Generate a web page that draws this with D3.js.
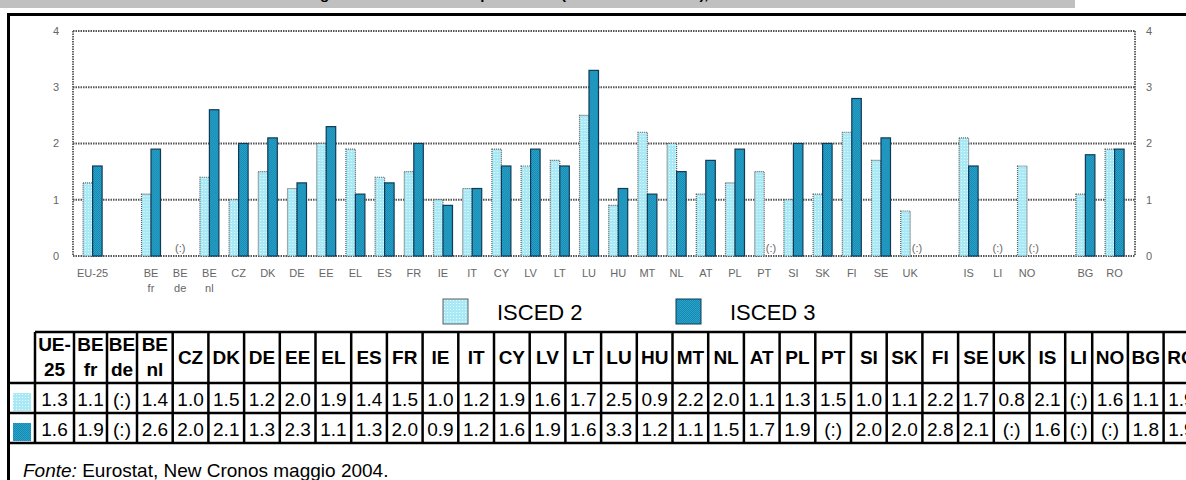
<!DOCTYPE html>
<html>
<head>
<meta charset="utf-8">
<script src="https://cdn.jsdelivr.net/npm/d3@7"></script>
<style>
body { margin: 0; background: #fff; }
svg { display: block; font-family: "Liberation Sans", Arial, sans-serif; }
</style>
</head>
<body>
<div id="chart"></div>
<script>
var countries = ["UE-25", "BE fr", "BE de", "BE nl", "CZ", "DK", "DE", "EE", "EL", "ES", "FR", "IE", "IT", "CY", "LV", "LT", "LU", "HU", "MT", "NL", "AT", "PL", "PT", "SI", "SK", "FI", "SE", "UK", "IS", "LI", "NO", "BG", "RO"];
var axisLabels = ["EU-25", "BE fr", "BE de", "BE nl", "CZ", "DK", "DE", "EE", "EL", "ES", "FR", "IE", "IT", "CY", "LV", "LT", "LU", "HU", "MT", "NL", "AT", "PL", "PT", "SI", "SK", "FI", "SE", "UK", "IS", "LI", "NO", "BG", "RO"];
var isced2 = [1.3, 1.1, null, 1.4, 1.0, 1.5, 1.2, 2.0, 1.9, 1.4, 1.5, 1.0, 1.2, 1.9, 1.6, 1.7, 2.5, 0.9, 2.2, 2.0, 1.1, 1.3, 1.5, 1.0, 1.1, 2.2, 1.7, 0.8, 2.1, null, 1.6, 1.1, 1.9];
var isced3 = [1.6, 1.9, null, 2.6, 2.0, 2.1, 1.3, 2.3, 1.1, 1.3, 2.0, 0.9, 1.2, 1.6, 1.9, 1.6, 3.3, 1.2, 1.1, 1.5, 1.7, 1.9, null, 2.0, 2.0, 2.8, 2.1, null, 1.6, null, null, 1.8, 1.9];
var seriesNames = ["ISCED 2", "ISCED 3"];
var yTicks = [0, 1, 2, 3, 4];
var gapBefore = ["BE fr", "IS", "BG"];
var missing = "(:)";
var title = "Numero medio di lingue straniere studiate per alunno (ISCED 2 e ISCED 3), 2002/03";
var sourceLabel = "Fonte:";
var sourceText = " Eurostat, New Cronos maggio 2004.";

var W = 1186, H = 480;
var svg = d3.select("#chart").append("svg")
	.attr("width", W)
	.attr("height", H);

var defs = svg.append("defs");
var pLight = defs.append("pattern").attr("id", "pLight")
	.attr("width", 3).attr("height", 3).attr("patternUnits", "userSpaceOnUse");
pLight.append("rect").attr("width", 3).attr("height", 3).attr("fill", "#a9e9f6");
pLight.append("rect").attr("x", 1).attr("y", 1).attr("width", 1).attr("height", 1).attr("fill", "#eafcff");
var pDark = defs.append("pattern").attr("id", "pDark")
	.attr("width", 2).attr("height", 2).attr("patternUnits", "userSpaceOnUse");
pDark.append("rect").attr("width", 2).attr("height", 2).attr("fill", "#25a5cc");
pDark.append("rect").attr("width", 1).attr("height", 1).attr("fill", "#1a88b0");
pDark.append("rect").attr("x", 1).attr("y", 1).attr("width", 1).attr("height", 1).attr("fill", "#1a88b0");
var fills = {"ISCED 2": "url(#pLight)", "ISCED 3": "url(#pDark)"};
var strokes = {"ISCED 2": "#5f5f5f", "ISCED 3": "#123a56"};

// titolo (tagliato in alto)
svg.append("rect").attr("x", 0).attr("y", 0).attr("width", 1075).attr("height", 8).attr("fill", "#c0c0c0");
var titleText = svg.append("text")
	.attr("y", -1)
	.attr("font-weight", "bold")
	.attr("font-size", 15)
	.text(title);
var prefix = svg.append("text").attr("font-size", 15).attr("font-weight", "bold")
	.text(title.slice(0, title.indexOf("per alunno")));
var prefixW = prefix.node().getComputedTextLength();
prefix.remove();
titleText.attr("x", 476 - prefixW);

// cornice
svg.append("path")
	.attr("d", "M8.5,480V14.5H1190")
	.attr("fill", "none").attr("stroke", "#000").attr("stroke-width", 3);

// grafico
var slots = [];
countries.forEach(function (c, i) {
	if (gapBefore.indexOf(c) >= 0) slots.push("gap" + i);
	slots.push(c);
});

var x = d3.scaleBand().domain(slots).range([78, 1129.2]);
var xs = d3.scaleBand().domain(seriesNames).range([5.1, 24.1]);
var y = d3.scaleLinear().domain([0, 4]).range([256, 31]);
var left = 73, right = 1135;

var grid = svg.append("g")
	.attr("fill", "none")
	.attr("stroke", "#555")
	.attr("stroke-width", 1.8)
	.attr("stroke-dasharray", "1.5,1");
grid.selectAll("line.h")
	.data(yTicks)
	.enter().append("line")
	.attr("class", "h")
	.attr("x1", left).attr("x2", right)
	.attr("y1", function (d) { return y(d); })
	.attr("y2", function (d) { return y(d); });
grid.append("line").attr("x1", left).attr("x2", left).attr("y1", y(4)).attr("y2", y(0));
grid.append("line").attr("x1", right).attr("x2", right).attr("y1", y(4)).attr("y2", y(0));

var tickStyle = function (sel) {
	sel.attr("font-size", 11).attr("fill", "#666").attr("text-anchor", "middle").attr("dy", "0.35em");
};
svg.selectAll("text.yl").data(yTicks).enter().append("text")
	.attr("class", "yl").attr("x", 56).attr("y", function (d) { return y(d); })
	.call(tickStyle).text(function (d) { return d; });
svg.selectAll("text.yr").data(yTicks).enter().append("text")
	.attr("class", "yr").attr("x", 1149).attr("y", function (d) { return y(d); })
	.call(tickStyle).text(function (d) { return d; });

var rows = countries.map(function (c, i) {
	return {name: c, label: axisLabels[i], values: [isced2[i], isced3[i]]};
});

var groups = svg.selectAll("g.cat")
	.data(rows)
	.enter().append("g")
	.attr("class", "cat")
	.attr("transform", function (d) { return "translate(" + x(d.name) + ",0)"; });

groups.selectAll("rect")
	.data(function (d) {
		return seriesNames.map(function (s, k) { return {series: s, value: d.values[k]}; })
			.filter(function (e) { return e.value != null; });
	})
	.enter().append("rect")
	.attr("x", function (d) { return xs(d.series); })
	.attr("width", xs.bandwidth())
	.attr("y", function (d) { return y(d.value); })
	.attr("height", function (d) { return y(0) - y(d.value); })
	.attr("fill", function (d) { return fills[d.series]; })
	.attr("stroke", function (d) { return strokes[d.series]; })
	.attr("stroke-width", 1.2)
	.attr("stroke-dasharray", function (d) { return d.series === "ISCED 2" ? "1,1" : null; });

// segni (:) per i dati mancanti
groups.each(function (d) {
	var g = d3.select(this);
	var bw = x.bandwidth();
	if (d.values[0] == null && d.values[1] == null) {
		g.append("text").attr("x", bw / 2).attr("y", 248).call(tickStyle).text(missing);
	} else {
		d.values.forEach(function (v, k) {
			if (v == null) {
				g.append("text").attr("x", xs(seriesNames[k]) + xs.bandwidth() / 2 + 2).attr("y", 248)
					.call(tickStyle).text(missing);
			}
		});
	}
	var parts = d.label.split(" ");
	parts.forEach(function (p, j) {
		g.append("text")
			.attr("x", bw / 2)
			.attr("y", 273 + j * 15)
			.call(tickStyle)
			.text(p);
	});
});

// legenda
var legend = svg.selectAll("g.leg")
	.data(seriesNames)
	.enter().append("g")
	.attr("class", "leg")
	.attr("transform", function (d, i) { return "translate(" + (i === 0 ? 443 : 676) + ",299)"; });
legend.append("rect")
	.attr("width", 25).attr("height", 25)
	.attr("fill", function (d) { return fills[d]; })
	.attr("stroke", function (d) { return strokes[d]; })
	.attr("stroke-width", 1);
legend.append("text")
	.attr("x", 54).attr("y", 21)
	.attr("font-size", 22)
	.text(function (d) { return d; });

// tabella
var narrowCols = {"UE-25": 39, "BE fr": 33, "BE de": 30, "LI": 27};
var colW = 35.7;
var colX = [];
var cx = 35;
countries.forEach(function (c) {
	var w = narrowCols[c] || colW;
	colX.push({name: c, x: cx, w: w});
	cx += w;
});
var tTop = 332, r1 = 383, r2 = 413, tBot = 443;

var table = svg.append("g");
var lines = table.append("g").attr("stroke", "#000").attr("stroke-width", 2.5);
lines.append("line").attr("x1", 35).attr("x2", W + 5).attr("y1", tTop).attr("y2", tTop);
[r1, r2, tBot].forEach(function (yy) {
	lines.append("line").attr("x1", 8).attr("x2", W + 5).attr("y1", yy).attr("y2", yy);
});
lines.selectAll("line.v")
	.data(colX)
	.enter().append("line")
	.attr("class", "v")
	.attr("x1", function (d) { return d.x; })
	.attr("x2", function (d) { return d.x; })
	.attr("y1", tTop).attr("y2", tBot);

var heads = table.selectAll("g.head")
	.data(colX)
	.enter().append("g")
	.attr("class", "head")
	.attr("transform", function (d) { return "translate(" + (d.x + d.w / 2) + ",0)"; });
heads.each(function (d) {
	var parts = d.name.replace("-", "- ").split(" ");
	var g = d3.select(this);
	parts.forEach(function (p, j) {
		g.append("text")
			.attr("text-anchor", "middle")
			.attr("font-weight", "bold")
			.attr("font-size", 19)
			.attr("y", parts.length === 1 ? 364 : 351 + j * 25)
			.text(p);
	});
});

var fmt = function (v) { return v == null ? missing : v.toFixed(1); };
[isced2, isced3].forEach(function (vals, k) {
	table.selectAll("text.v" + k)
		.data(colX)
		.enter().append("text")
		.attr("class", "v" + k)
		.attr("text-anchor", "middle")
		.attr("font-size", 19)
		.attr("x", function (d) { return d.x + d.w / 2; })
		.attr("y", k === 0 ? 406 : 436)
		.text(function (d, i) { return fmt(vals[i]); });
	table.append("rect")
		.attr("x", 13).attr("y", (k === 0 ? r1 : r2) + 10)
		.attr("width", 18).attr("height", 18)
		.attr("fill", fills[seriesNames[k]]);
});

// fonte
var src = svg.append("text").attr("x", 23).attr("y", 477).attr("font-size", 19);
src.append("tspan").attr("font-style", "italic").text(sourceLabel);
src.append("tspan").text(sourceText);
</script>
</body>
</html>
